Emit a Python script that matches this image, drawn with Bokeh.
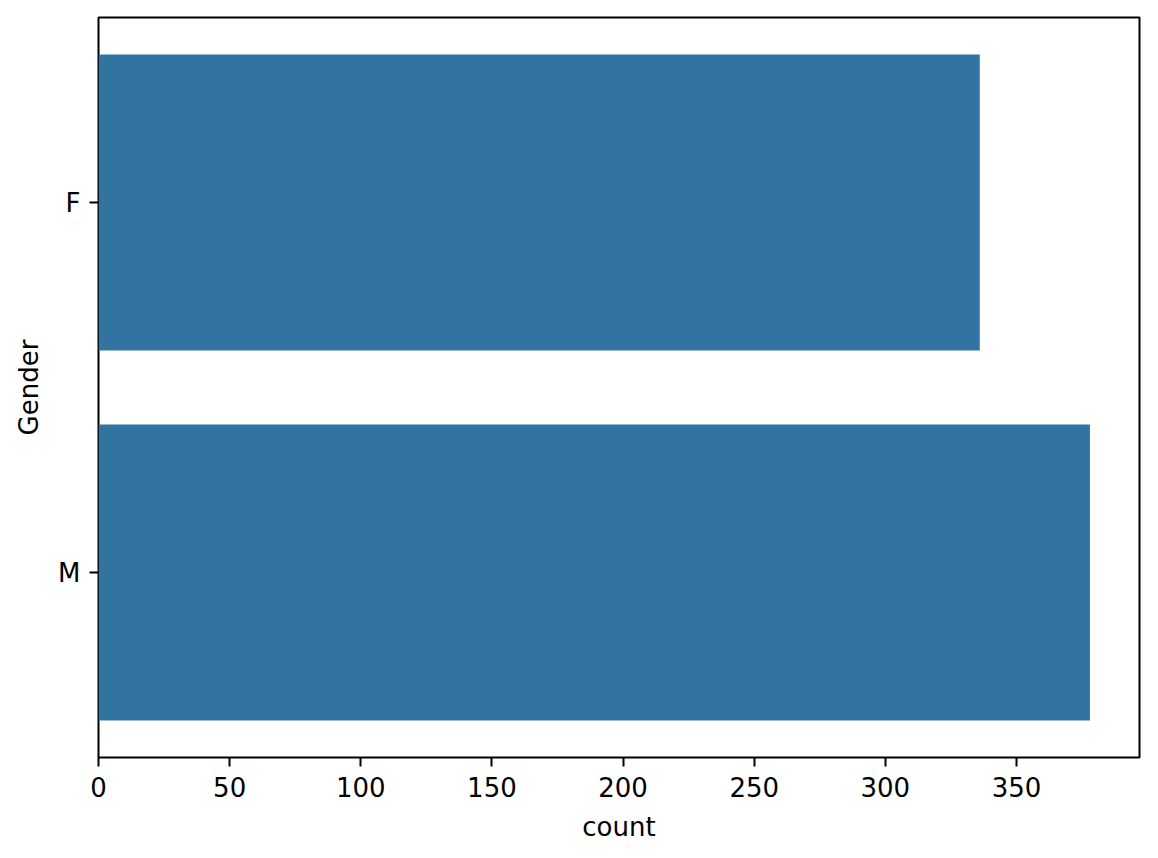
from bokeh.plotting import figure
from bokeh.models import Range1d, FactorRange, FixedTicker
from bokeh.embed import file_html
from bokeh.resources import INLINE

genders = ["F", "M"]
counts = [336, 378]
x_ticks = [0, 50, 100, 150, 200, 250, 300, 350]

p = figure(
    y_range=FactorRange(factors=genders[::-1], range_padding=0),
    x_range=Range1d(0, max(counts) * 1.05),
    frame_width=1041, frame_height=740,
    min_border_left=98, min_border_top=17, min_border_right=11, min_border_bottom=90,
    output_backend="svg", toolbar_location=None,
)
p.hbar(y=genders, right=counts, height=0.8, left=0, color="#3274a1", line_color=None)

p.xgrid.visible = False
p.ygrid.visible = False
p.outline_line_color = "black"
p.outline_line_width = 2
p.outline_line_alpha = 1

for ax in (p.xaxis[0], p.yaxis[0]):
    ax.axis_line_color = None
    ax.major_tick_line_width = 2
    ax.major_tick_line_color = "black"
    ax.major_tick_out = 9
    ax.major_tick_in = 0
    ax.minor_tick_line_color = None
    ax.major_label_text_font = "DejaVu Sans"
    ax.major_label_text_font_size = "26px"
    ax.major_label_text_color = "black"
    ax.axis_label_text_font = "DejaVu Sans"
    ax.axis_label_text_font_size = "26px"
    ax.axis_label_text_font_style = "normal"
    ax.axis_label_text_color = "black"
    ax.major_label_standoff = 10
    ax.axis_label_standoff = 12

p.xaxis.ticker = FixedTicker(ticks=x_ticks)
p.xaxis.axis_label = "count"
p.yaxis.axis_label = "Gender"
p.yaxis.major_label_standoff = 9
p.yaxis.axis_label_standoff = 11

open("out.html", "w").write(file_html(p, INLINE))
